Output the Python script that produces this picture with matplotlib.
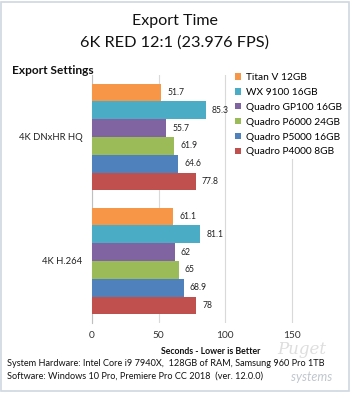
import matplotlib
matplotlib.use("Agg")
import matplotlib.pyplot as plt
from matplotlib.patches import Rectangle
import numpy as np

plt.rcParams['font.family'] = ['Lato', 'DejaVu Sans']

categories = ["4K DNxHR HQ", "4K H.264"]
series = ["Titan V 12GB", "WX 9100 16GB", "Quadro GP100 16GB",
          "Quadro P6000 24GB", "Quadro P5000 16GB", "Quadro P4000 8GB"]
values = {
    "Titan V 12GB":      [51.7, 61.1],
    "WX 9100 16GB":      [85.3, 81.1],
    "Quadro GP100 16GB": [55.7, 62],
    "Quadro P6000 24GB": [61.9, 65],
    "Quadro P5000 16GB": [64.6, 68.9],
    "Quadro P4000 8GB":  [77.8, 78],
}
xticks = [0, 50, 100, 150]
colors = ["#F79646", "#4BACC6", "#8064A2", "#9BBB59", "#4F81BD", "#C0504D"]

W, H = 350, 393
fig = plt.figure(figsize=(W/100, H/100), dpi=100)
fig.patch.set_facecolor("white")
fig.patches.append(Rectangle((0.004, 0.004), 0.992, 0.992, transform=fig.transFigure,
                             fill=False, edgecolor="#D0D7E0", linewidth=1.2))

def px(x, y):
    return x / W, 1 - y / H

l, t = 92, 75
r, b = 325, 323
ax = fig.add_axes([l/W, 1 - b/H, (r-l)/W, (b-t)/H])

h = 0.1435
ypos = np.arange(len(categories))
for j, s in enumerate(series):
    yy = ypos + (j - 2.5) * h
    ax.barh(yy, values[s], height=h, color=colors[j], edgecolor="none", zorder=3, label=s)
    for y, v in zip(yy, values[s]):
        ax.annotate(f"{v:g}", (v, y), xytext=(4.5, 0), textcoords="offset points",
                    ha="left", va="center", fontsize=6.2, color="#222222")

ax.set_xlim(0, 175)
ax.set_ylim(1.5, -0.5)
ax.set_xticks(xticks)
ax.set_xticklabels([str(x) for x in xticks], fontsize=7.3, color="#333333")
ax.tick_params(axis="x", length=0, pad=6)
ax.set_yticks(ypos)
ax.set_yticklabels(categories, fontsize=6.8, color="#222222")
ax.tick_params(axis="y", length=0, pad=7)
ax.grid(axis="x", color="#D9D9D9", linewidth=0.8, zorder=0)
for sp in ["top", "right", "bottom"]:
    ax.spines[sp].set_visible(False)
ax.spines["left"].set_color("#BFBFBF")
ax.spines["left"].set_linewidth(0.8)
ax.set_facecolor("none")

# legend
handles, labels = ax.get_legend_handles_labels()
leg = fig.legend(handles, labels, loc="upper left", bbox_to_anchor=px(232, 70),
                 fontsize=7.3, frameon=True, handlelength=0.6, handleheight=0.6,
                 handletextpad=0.45, labelspacing=0.58, borderaxespad=0, borderpad=0.3)
leg.get_frame().set_facecolor("white")
leg.get_frame().set_edgecolor("none")
leg.get_frame().set_alpha(1)

# titles
fig.text(*px(175, 21), "Export Time", ha="center", va="center", fontsize=11.5, color="#111111")
fig.text(*px(175, 43), "6K RED 12:1 (23.976 FPS)", ha="center", va="center", fontsize=11.7, color="#111111")
fig.text(*px(12, 70), "Export Settings", ha="left", va="center", fontsize=8.6, fontweight="bold", color="#111111")
fig.text(*px(211, 352), "Seconds - Lower is Better", ha="center", va="center", fontsize=6.3, fontweight="bold", color="#111111")
fig.text(*px(7, 363), "System Hardware: Intel Core i9 7940X,  128GB of RAM, Samsung 960 Pro 1TB",
         ha="left", va="center", fontsize=6.6, color="#111111")
fig.text(*px(7, 376), "Software: Windows 10 Pro, Premiere Pro CC 2018  (ver. 12.0.0)",
         ha="left", va="center", fontsize=6.6, color="#111111")

# watermark
fig.text(*px(302, 349), "Puget", ha="center", va="center", fontsize=12, style="italic",
         family="DejaVu Serif", color="#C8C8C8", alpha=0.6)
fig.text(*px(312, 377), "systems", ha="center", va="center", fontsize=9, style="italic",
         color="#B0B8C0", alpha=0.8)

fig.savefig("out.png", dpi=100, facecolor="white")
